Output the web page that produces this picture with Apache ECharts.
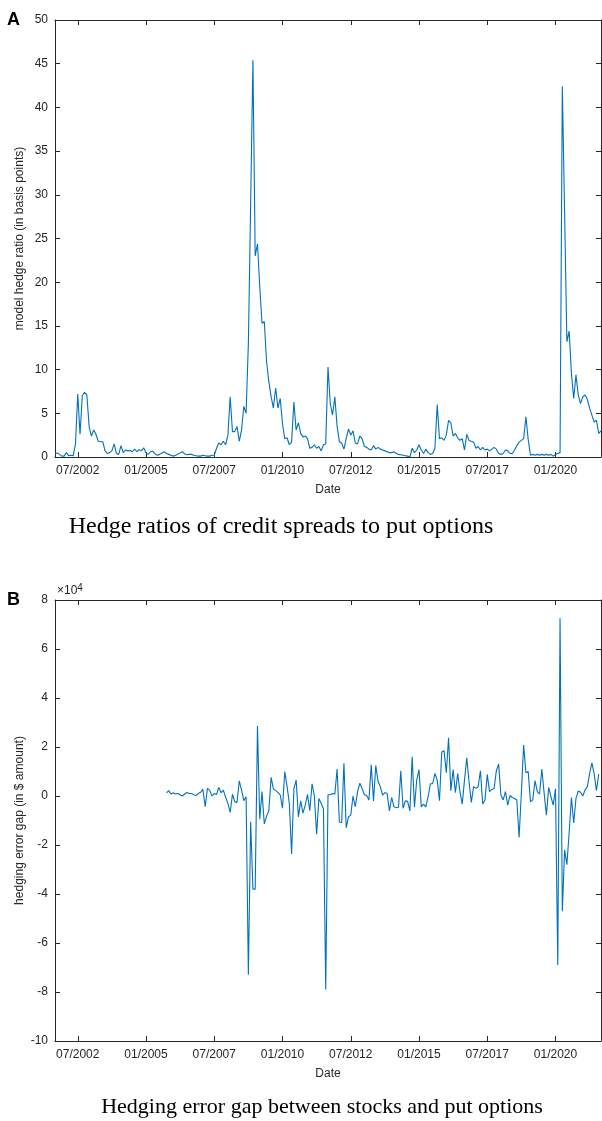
<!DOCTYPE html>
<html><head><meta charset="utf-8">
<script src="https://cdn.jsdelivr.net/npm/echarts@6/dist/echarts.min.js"></script>
<style>html,body{margin:0;padding:0;background:#fff}#c{width:602px;height:1121px}</style>
</head><body><div id="c"></div>
<script>
// x positions are months counted from 01/2000 (0 = Jan 2000)
const tickMonths = [30, 60, 90, 120, 150, 180, 210, 240];
const tickLabels = ['07/2002', '01/2005', '07/2007', '01/2010', '07/2012', '01/2015', '07/2017', '01/2020'];
const xMin = 20, xMax = 260;

// Panel A: model hedge ratio (basis points), monthly from 09/2001
const hedgeStartMonth = 20;
const hedgeRatio = [
  0.4, 0.45, 0.3, 0.1, 0.1, 0.5, 0.15, 0.2, 0.15, 1.5,
  7.2, 2.6, 7.0, 7.4, 7.1, 3.5, 2.4, 3.1, 2.6, 1.8,
  1.75, 1.75, 0.7, 0.4, 0.5, 0.7, 1.5, 0.4, 0.3, 1.3,
  0.5, 0.8, 0.7, 0.75, 0.6, 0.9, 0.6, 0.85, 0.7, 1.05,
  0.45, 0.3, 0.6, 0.65, 0.35, 0.2, 0.3, 0.45, 0.6, 0.4,
  0.3, 0.2, 0.1, 0.2, 0.35, 0.45, 0.6, 0.35, 0.25, 0.3,
  0.3, 0.2, 0.15, 0.1, 0.1, 0.2, 0.15, 0.1, 0.1, 0.2,
  0.2, 1.0, 1.6, 1.4, 1.8, 1.4, 2.5, 6.9, 2.9, 2.9,
  3.5, 1.8, 3.1, 5.8, 5.0, 13.0, 29.0, 45.4, 23.0, 24.4,
  19.5, 15.3, 15.5, 10.9, 8.6, 6.9, 5.6, 7.9, 5.6, 6.7,
  3.8, 2.1, 2.2, 1.4, 1.7, 6.3, 3.1, 3.9, 2.7, 2.3,
  2.4, 2.1, 1.0, 1.1, 1.4, 1.0, 1.2, 0.7, 1.4, 1.5,
  10.3, 6.1, 4.8, 6.9, 3.5, 1.75, 1.6, 0.9, 2.1, 3.2,
  2.5, 3.0, 1.6, 1.5, 2.4, 2.1, 1.2, 1.1, 0.9, 0.8,
  1.3, 0.9, 1.1, 0.9, 0.8, 0.7, 0.6, 0.5, 0.5, 0.6,
  0.4, 0.3, 0.25, 0.2, 0.15, 0.1, 0.0, 1.0, 0.5, 0.8,
  1.4, 0.8, 0.4, 0.9, 0.5, 0.3, 0.4, 1.0, 6.0, 2.1,
  2.2, 1.9, 2.5, 4.2, 3.9, 2.4, 2.7, 2.2, 1.9, 2.1,
  0.8, 2.6, 1.9, 1.8, 1.7, 1.0, 1.2, 0.8, 1.1, 0.8,
  0.9, 0.7, 0.9, 1.1, 0.9, 0.4, 0.3, 0.4, 0.8, 0.7,
  0.4, 0.4, 0.8, 1.3, 1.7, 1.9, 2.1, 4.6, 2.0, 0.2,
  0.3, 0.2, 0.3, 0.2, 0.3, 0.2, 0.3, 0.2, 0.3, 0.1,
  0.3, 0.4, 0.5, 42.4, 28.0, 13.2, 14.4, 9.6, 6.7, 9.4,
  7.1, 6.1, 6.9, 7.1, 6.6, 5.6, 4.8, 4.0, 4.2, 2.7,
  3.0
];

// Panel B: hedging error gap (in units of 10^4 $), monthly from 10/2005
const gapStartMonth = 69;
const hedgeGap = [
  0.13, 0.22, 0.08, 0.13, 0.08, 0.1, 0.05, 0.0, 0.08, 0.14,
  0.1, 0.1, 0.05, 0.02, 0.1, 0.15, 0.27, -0.44, 0.31, 0.24,
  0.0, 0.1, 0.06, 0.35, 0.13, 0.24, -0.05, -0.3, -0.67, 0.07,
  -0.23, -0.26, 0.62, 0.24, -0.19, -0.03, -7.3, -1.05, -3.8, -3.8,
  2.86, -0.95, 0.18, -1.14, -0.82, -0.6, 0.76, 0.29, 0.22, 0.15,
  0.04, -0.5, 1.0, 0.4, -0.3, -2.37, 0.3, 0.65, -0.85, -0.2,
  -0.7, -0.37, 0.07, -0.6, 0.5, 0.0, -1.56, -0.1, -0.3, -0.53,
  -7.9, 0.05, 0.05, 0.1, 0.07, 1.1, -1.07, -1.08, 1.34, -1.3,
  -0.85, -0.78, 0.0, -0.44, 0.18, 0.52, 0.3, 0.05, 0.02, -0.16,
  1.27, -0.2, 1.24, 0.6, 0.38, 0.04, 0.14, 0.1, -0.61, -0.06,
  -0.44, -0.48, -0.46, 1.03, -0.5, -0.2, -0.22, -0.61, 1.6, -0.46,
  0.65, 1.08, -0.44, -0.33, -0.44, -0.03, 0.5, 0.5, 0.92, 0.65,
  -0.19, 1.8, 1.85, 0.95, 2.38, 0.22, 1.08, 0.14, 0.92, 0.18,
  -0.33, 0.65, 1.56, 0.58, -0.26, 0.38, 0.31, 0.38, 1.03, -0.33,
  -0.16, 0.88, 0.18, 0.27, 0.31, 1.03, 1.3, 0.04, -0.16, 0.18,
  -0.37, 0.02, -0.06, -0.1, -0.16, -1.69, 0.12, 2.08, 0.95, 1.0,
  -0.24, -0.16, 0.63, 0.18, 0.08, 1.1, 0.12, -0.78, 0.35, -0.03,
  -0.37, 0.3, -6.9, 7.25, -4.7, -2.2, -2.8, -1.5, -0.06, -1.1,
  -0.1, 0.2, 0.15, 0.0, 0.25, 0.38, 0.92, 1.35, 0.9, 0.22,
  0.9
];

const FONT = "'Liberation Sans', Arial, sans-serif";
const SERIF = "'Liberation Serif', 'Times New Roman', serif";
const AX = '#262626';
const LINE = '#0072BD';

const toPairs = (start, arr) => arr.map((v, i) => [start + i, v]);

function xAxes(gridIndex, withName) {
  const base = {
    type: 'value', gridIndex, min: xMin, max: xMax,
    splitLine: { show: false },
    axisLine: { show: true, onZero: false, lineStyle: { color: AX, width: 1 } },
    axisTick: { show: true, inside: true, length: 5, customValues: tickMonths, lineStyle: { color: AX } }
  };
  return [
    Object.assign({}, base, {
      position: 'bottom',
      name: withName ? 'Date' : '', nameLocation: 'middle', nameGap: 27,
      nameTextStyle: { color: AX, fontFamily: FONT, fontSize: 12 },
      axisLabel: {
        show: true, margin: 8, color: AX, fontFamily: FONT, fontSize: 12,
        customValues: tickMonths,
        formatter: v => { const k = tickMonths.indexOf(v); return k >= 0 ? tickLabels[k] : ''; }
      }
    }),
    Object.assign({}, base, { position: 'top', axisLabel: { show: false } })
  ];
}

function yAxes(gridIndex, min, max, interval, name) {
  const base = {
    type: 'value', gridIndex, min, max, interval,
    splitLine: { show: false },
    axisLine: { show: true, onZero: false, lineStyle: { color: AX, width: 1 } },
    axisTick: { show: true, inside: true, length: 5, lineStyle: { color: AX } }
  };
  return [
    Object.assign({}, base, {
      position: 'left',
      name, nameLocation: 'middle', nameGap: 29, nameRotate: 90, nameMoveOverlap: false,
      nameTextStyle: { color: AX, fontFamily: FONT, fontSize: 12 },
      axisLabel: { show: true, margin: 7, color: AX, fontFamily: FONT, fontSize: 12 }
    }),
    Object.assign({}, base, { position: 'right', axisLabel: { show: false } })
  ];
}

const chart = echarts.init(document.getElementById('c'), null, { renderer: 'canvas' });
chart.setOption({
  animation: false,
  backgroundColor: '#fff',
  grid: [
    { left: 55, top: 20, width: 546, height: 437 },
    { left: 55, top: 600, width: 546, height: 441 }
  ],
  xAxis: [...xAxes(0, true), ...xAxes(1, true)],
  yAxis: [
    ...yAxes(0, 0, 50, 5, 'model hedge ratio (in basis points)'),
    ...yAxes(1, -10, 8, 2, 'hedging error gap (in $ amount)')
  ],
  series: [
    {
      type: 'line', xAxisIndex: 0, yAxisIndex: 0, data: toPairs(hedgeStartMonth, hedgeRatio),
      showSymbol: false, symbol: 'none', lineStyle: { color: LINE, width: 1.1 }, silent: true
    },
    {
      type: 'line', xAxisIndex: 2, yAxisIndex: 2, data: toPairs(gapStartMonth, hedgeGap),
      showSymbol: false, symbol: 'none', lineStyle: { color: LINE, width: 1.1 }, silent: true
    }
  ],
  graphic: [
    { type: 'text', left: 7, top: 11, style: { text: 'A', font: "bold 18px " + FONT, fill: '#000' } },
    { type: 'text', left: 7, top: 591, style: { text: 'B', font: "bold 18px " + FONT, fill: '#000' } },
    {
      type: 'text', left: 57, top: 583,
      style: {
        text: '×10{s|4}', font: "12px " + FONT, fill: AX,
        rich: { s: { fontSize: 10, fontFamily: FONT, fill: AX, verticalAlign: 'top', padding: [0, 0, 6, 0] } }
      }
    },
    {
      type: 'text', x: 281, y: 527,
      style: { text: 'Hedge ratios of credit spreads to put options', font: "24px " + SERIF, fill: '#000', align: 'center', verticalAlign: 'middle' }
    },
    {
      type: 'text', x: 322, y: 1107,
      style: { text: 'Hedging error gap between stocks and put options', font: "22px " + SERIF, fill: '#000', align: 'center', verticalAlign: 'middle' }
    }
  ]
});
</script>
</body></html>
